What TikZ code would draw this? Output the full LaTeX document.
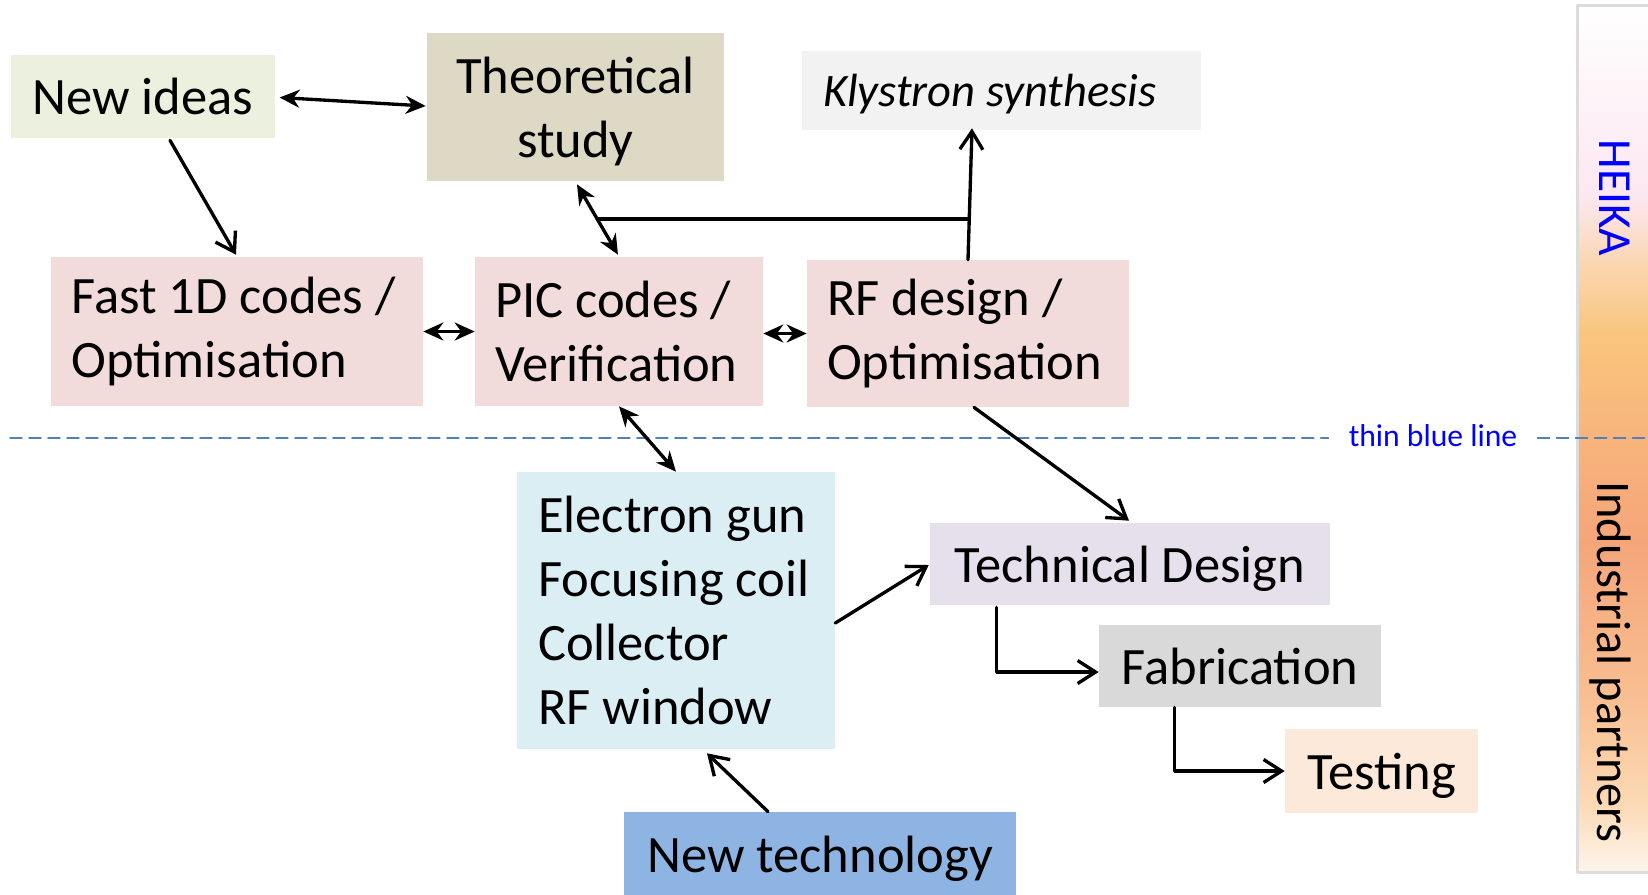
\documentclass[tikz,border=0pt]{standalone}
\usepackage{fontspec}
\setmainfont{Carlito}
\usetikzlibrary{arrows.meta,calc}
\definecolor{ideasfill}{HTML}{EBF1DE}
\definecolor{theofill}{HTML}{DDD9C4}
\definecolor{klyfill}{HTML}{F2F2F2}
\definecolor{codefill}{HTML}{F2DCDB}
\definecolor{partfill}{HTML}{DBEEF4}
\definecolor{techfill}{HTML}{E6E0EC}
\definecolor{fabfill}{HTML}{D9D9D9}
\definecolor{testfill}{HTML}{FDE9D9}
\definecolor{newfill}{HTML}{8EB4E3}
\definecolor{dashcol}{HTML}{4F81BD}
\definecolor{barline}{HTML}{DCDCDC}
\definecolor{barB}{HTML}{FCE7F1}
\definecolor{barBC}{HTML}{FAD6B0}
\definecolor{barC}{HTML}{F9C57D}
\definecolor{barD}{HTML}{F8B47B}
\definecolor{barE}{HTML}{F5A57A}
\definecolor{barF}{HTML}{F8BF92}
\definecolor{barG}{HTML}{FBD9B4}
\definecolor{barH}{HTML}{FEF5EC}
\pgfdeclareverticalshading{partnerbar}{100bp}{color(0bp)=(barH); color(25bp)=(barH); color(29bp)=(barG); color(35bp)=(barF); color(44bp)=(barE); color(50bp)=(barD); color(56bp)=(barC); color(60bp)=(barBC); color(64bp)=(barB); color(75bp)=(white); color(100bp)=(white)}
\tikzset{
	box/.style={inner sep=0pt,font=\fontsize{29.9}{36.5}\selectfont,align=center,text depth=0pt},
	lbox/.style={box,align=flush left,inner xsep=0.4cm,text depth=},
	both/.style={{Stealth[length=0.4cm,width=0.36cm]}-{Stealth[length=0.4cm,width=0.36cm]},line width=1.9pt},
	one/.style={-{Straight Barb[length=0.36cm,width=0.46cm]},line width=1.9pt},
	bluedash/.style={dashcol,line width=0.85pt,dash pattern=on 0.24cm off 0.14cm}
}
\begin{document}
\begin{tikzpicture}[x=0.02cm,y=-0.02cm,line cap=round,line join=round]
	\useasboundingbox (0,0) rectangle (1648,894);
	\draw[shading=partnerbar,draw=barline,line width=1.7pt] (1577,5) rectangle (1690,872);
	\node[rotate=-90,text=blue,font=\fontsize{27}{32}\selectfont] (heika) at (1615,198) {HEIKA};
	\node[rotate=-90,font=\fontsize{27.5}{33}\selectfont] (partners) at (1610,662) {Industrial partners};
	\node[font=\fontsize{18}{22}\selectfont,text=blue,inner xsep=0.4cm,inner ysep=0pt] (tbl) at (1433,436) {thin blue line};
	\coordinate (dl) at (10,438);
	\coordinate (dr) at (1648,438);
	\draw[bluedash] (dl) -- (dl -| tbl.west);
	\draw[bluedash] (dr -| tbl.east) -- (dr);
	\node[box,fill=ideasfill,minimum width=5.29cm,minimum height=1.66cm] (ideas) at (143,96.5) {New ideas};
	\node[box,fill=theofill,minimum width=5.94cm,minimum height=2.96cm] (theory) at (575.5,107) {Theoretical\\study};
	\node[lbox,fill=klyfill,text width=7.14cm,inner xsep=0.42cm,minimum height=1.58cm,text depth=0pt,font=\fontsize{26.5}{32}\selectfont\itshape] (klystron) at (1001.5,90.5) {Klystron~synthesis};
	\node[lbox,fill=codefill,text width=6.62cm,inner xsep=0.41cm,minimum height=2.98cm] (fast) at (237,331.5) {Fast~1D~codes~/\\Optimisation};
	\node[lbox,fill=codefill,text width=4.96cm,minimum height=2.98cm] (pic) at (619,331.5) {PIC~codes~/\\Verification};
	\node[lbox,fill=codefill,text width=5.64cm,minimum height=2.94cm] (rf) at (968,333.5) {RF~design~/\\Optimisation};
	\node[lbox,fill=partfill,text width=5.52cm,inner xsep=0.42cm,minimum height=5.54cm] (parts) at (676,610.5) {Electron~gun\\Focusing~coil\\Collector\\RF~window};
	\node[box,fill=techfill,minimum width=8cm,minimum height=1.64cm] (techdes) at (1130,564) {Technical Design};
	\node[box,fill=fabfill,minimum width=5.64cm,minimum height=1.64cm] (fab) at (1240,666) {Fabrication};
	\node[box,fill=testfill,minimum width=3.86cm,minimum height=1.68cm] (testing) at (1381.5,771) {Testing};
	\node[box,fill=newfill,minimum width=7.84cm,minimum height=1.68cm] (newtech) at (820,854) {New technology};
	\draw[both] ($(ideas.east)+(4,1)$) -- ($(theory.west)+(-1,-1)$);
	\draw[one] ($(ideas.south)+(27,2)$) -- ($(fast.north)+(-1,-2)$);
	\draw[both] ($(theory.south)+(1.5,3)$) -- ($(pic.north)+(-1,-2)$);
	\coordinate (split) at ($(theory.south)!0.5!(pic.north)$);
	\draw[line width=1.9pt] (split) -- (split -| rf.north);
	\draw[one] (rf.north) -- ($(klystron.south)+(-29.5,-2)$);
	\draw[both] (fast.east) -- (pic.west);
	\draw[both] (pic.east |- rf.west) -- (rf.west);
	\draw[both] (pic.south) -- (parts.north);
	\draw[one] ($(rf.south)+(6,0)$) -- ($(techdes.north)+(-1,-2)$);
	\draw[one] ($(parts.east)+(0,12.5)$) -- ($(techdes.west)+(-1,1)$);
	\draw[one] ($(techdes.south west)+(67,2)$) |- ($(fab.west)+(0,6)$);
	\draw[one] ($(fab.south west)+(76,0)$) |- (testing.west);
	\draw[one] ($(newtech.north)+(-52,0)$) -- ($(parts.south)+(31,4)$);
\end{tikzpicture}
\end{document}
